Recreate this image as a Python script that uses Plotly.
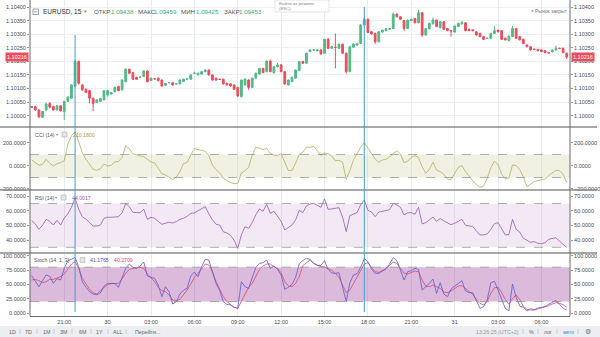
import plotly.graph_objects as go

# ---------------- data ----------------
time_labels = ["21:00", "30", "03:00", "06:00", "09:00", "12:00", "15:00", "18:00", "21:00", "31", "03:00", "06:00"]
label_bars = [9, 21, 33, 45, 57, 69, 81, 93, 105, 117, 129, 141]
price_ticks = [1.10000, 1.10050, 1.10100, 1.10150, 1.10200, 1.10250, 1.10300, 1.10350, 1.10400]
cci_ticks = [-200, 0, 200]
rsi_ticks = [40, 50, 60, 70]
stoch_ticks = [0, 25, 50, 75, 100]
cursor_bars = [12, 92]

open_ = [1.10032, 1.10033, 1.10021, 1.09994, 1.10021, 1.10045, 1.10033, 1.10021, 1.10036, 1.10015,
         1.10052, 1.10064, 1.10109, 1.10199, 1.10113, 1.10097, 1.10092, 1.10064, 1.10048, 1.10052,
         1.10058, 1.10076, 1.10080, 1.10088, 1.10107, 1.10095, 1.10125, 1.10171, 1.10158, 1.10141,
         1.10141, 1.10144, 1.10164, 1.10129, 1.10136, 1.10138, 1.10131, 1.10112, 1.10121, 1.10121,
         1.10116, 1.10117, 1.10126, 1.10134, 1.10134, 1.10155, 1.10150, 1.10153, 1.10162, 1.10168,
         1.10150, 1.10138, 1.10134, 1.10134, 1.10119, 1.10117, 1.10113, 1.10104, 1.10070, 1.10113,
         1.10131, 1.10104, 1.10138, 1.10153, 1.10174, 1.10162, 1.10201, 1.10158, 1.10180, 1.10187,
         1.10162, 1.10113, 1.10125, 1.10138, 1.10166,
         1.10199, 1.10193, 1.10236, 1.10241, 1.10238, 1.10242, 1.10230, 1.10281, 1.10248, 1.10252,
         1.10248, 1.10263, 1.10230, 1.10162, 1.10252, 1.10260, 1.10266, 1.10334, 1.10355, 1.10309,
         1.10303, 1.10272, 1.10308, 1.10313, 1.10318, 1.10321, 1.10374, 1.10364, 1.10350, 1.10321,
         1.10350, 1.10358, 1.10342, 1.10379, 1.10297, 1.10320, 1.10338, 1.10352, 1.10324, 1.10346,
         1.10321, 1.10313, 1.10308, 1.10328, 1.10338, 1.10342, 1.10318, 1.10316, 1.10309, 1.10303,
         1.10291, 1.10284, 1.10285, 1.10303, 1.10315, 1.10313, 1.10285, 1.10276, 1.10291, 1.10321,
         1.10291, 1.10281, 1.10260, 1.10254, 1.10245, 1.10244, 1.10242, 1.10239, 1.10232, 1.10235,
         1.10242, 1.10248, 1.10248, 1.10230]

high = [1.10035, 1.10036, 1.10023, 1.10017, 1.10048, 1.10049, 1.10036, 1.10039, 1.10038, 1.10055,
        1.10071, 1.10116, 1.10204, 1.10203, 1.10116, 1.10100, 1.10095, 1.10066, 1.10060, 1.10065,
        1.10094, 1.10095, 1.10087, 1.10107, 1.10110, 1.10134, 1.10174, 1.10173, 1.10160, 1.10143,
        1.10144, 1.10167, 1.10167, 1.10140, 1.10137, 1.10140, 1.10133, 1.10120, 1.10123, 1.10123,
        1.10118, 1.10133, 1.10136, 1.10136, 1.10152, 1.10162, 1.10158, 1.10164, 1.10170, 1.10170,
        1.10152, 1.10140, 1.10136, 1.10136, 1.10121, 1.10119, 1.10115, 1.10106, 1.10133, 1.10137,
        1.10134, 1.10140, 1.10158, 1.10176, 1.10176, 1.10203, 1.10206, 1.10182, 1.10194, 1.10189,
        1.10164, 1.10133, 1.10143, 1.10170, 1.10201,
        1.10202, 1.10232, 1.10244, 1.10244, 1.10244, 1.10245, 1.10283, 1.10286, 1.10256, 1.10303,
        1.10265, 1.10265, 1.10232, 1.10256, 1.10266, 1.10268, 1.10336, 1.10360, 1.10358, 1.10311,
        1.10305, 1.10311, 1.10317, 1.10322, 1.10323, 1.10380, 1.10377, 1.10366, 1.10352, 1.10354,
        1.10357, 1.10360, 1.10390, 1.10381, 1.10323, 1.10342, 1.10362, 1.10354, 1.10348, 1.10348,
        1.10323, 1.10315, 1.10332, 1.10342, 1.10350, 1.10344, 1.10320, 1.10318, 1.10311, 1.10305,
        1.10293, 1.10287, 1.10305, 1.10330, 1.10317, 1.10315, 1.10287, 1.10295, 1.10330, 1.10323,
        1.10293, 1.10283, 1.10262, 1.10256, 1.10247, 1.10246, 1.10244, 1.10241, 1.10234, 1.10244,
        1.10258, 1.10250, 1.10250, 1.10232]

low = [1.10028, 1.10018, 1.09990, 1.09991, 1.10016, 1.10027, 1.10018, 1.10019, 1.10015, 1.09984,
       1.10050, 1.10062, 1.10105, 1.10114, 1.10091, 1.10083, 1.10045, 1.10017, 1.10046, 1.10050,
       1.10056, 1.10070, 1.10078, 1.10086, 1.10090, 1.10093, 1.10123, 1.10154, 1.10131, 1.10132,
       1.10139, 1.10142, 1.10122, 1.10127, 1.10133, 1.10127, 1.10107, 1.10108, 1.10119, 1.10111,
       1.10114, 1.10115, 1.10124, 1.10132, 1.10132, 1.10153, 1.10148, 1.10151, 1.10160, 1.10148,
       1.10129, 1.10129, 1.10131, 1.10115, 1.10111, 1.10107, 1.10095, 1.10068, 1.10067, 1.10111,
       1.10095, 1.10102, 1.10136, 1.10151, 1.10156, 1.10160, 1.10160, 1.10156, 1.10178, 1.10160,
       1.10113, 1.10111, 1.10123, 1.10136, 1.10164,
       1.10191, 1.10191, 1.10234, 1.10239, 1.10236, 1.10225, 1.10228, 1.10246, 1.10246, 1.10174,
       1.10246, 1.10228, 1.10155, 1.10160, 1.10250, 1.10258, 1.10264, 1.10332, 1.10304, 1.10299,
       1.10264, 1.10270, 1.10306, 1.10311, 1.10316, 1.10319, 1.10362, 1.10353, 1.10313, 1.10319,
       1.10348, 1.10340, 1.10340, 1.10290, 1.10295, 1.10318, 1.10336, 1.10326, 1.10322, 1.10316,
       1.10311, 1.10291, 1.10306, 1.10326, 1.10336, 1.10311, 1.10311, 1.10311, 1.10295, 1.10289,
       1.10279, 1.10282, 1.10283, 1.10301, 1.10307, 1.10279, 1.10277, 1.10274, 1.10289, 1.10283,
       1.10277, 1.10264, 1.10252, 1.10240, 1.10242, 1.10237, 1.10234, 1.10230, 1.10229, 1.10233,
       1.10240, 1.10245, 1.10230, 1.10209]

close = [1.10031, 1.10021, 1.09996, 1.10015, 1.10043, 1.10031, 1.10021, 1.10036, 1.10018, 1.10052,
         1.10068, 1.10113, 1.10199, 1.10119, 1.10095, 1.10085, 1.10064, 1.10045, 1.10058, 1.10063,
         1.10092, 1.10092, 1.10085, 1.10104, 1.10092, 1.10131, 1.10171, 1.10156, 1.10134, 1.10134,
         1.10142, 1.10164, 1.10125, 1.10138, 1.10135, 1.10129, 1.10109, 1.10118, 1.10122, 1.10113,
         1.10117, 1.10131, 1.10134, 1.10135, 1.10150, 1.10156, 1.10156, 1.10162, 1.10168, 1.10150,
         1.10131, 1.10131, 1.10133, 1.10117, 1.10113, 1.10109, 1.10097, 1.10072, 1.10131, 1.10135,
         1.10104, 1.10138, 1.10156, 1.10174, 1.10158, 1.10201, 1.10162, 1.10180, 1.10187, 1.10162,
         1.10117, 1.10131, 1.10141, 1.10168, 1.10199,
         1.10193, 1.10230, 1.10242, 1.10242, 1.10242, 1.10227, 1.10281, 1.10248, 1.10254, 1.10251,
         1.10263, 1.10230, 1.10162, 1.10254, 1.10264, 1.10266, 1.10334, 1.10355, 1.10306, 1.10301,
         1.10272, 1.10309, 1.10315, 1.10320, 1.10321, 1.10374, 1.10364, 1.10355, 1.10321, 1.10352,
         1.10355, 1.10342, 1.10379, 1.10297, 1.10321, 1.10340, 1.10352, 1.10328, 1.10346, 1.10318,
         1.10313, 1.10312, 1.10330, 1.10340, 1.10342, 1.10313, 1.10313, 1.10313, 1.10297, 1.10291,
         1.10281, 1.10285, 1.10303, 1.10313, 1.10309, 1.10281, 1.10279, 1.10293, 1.10321, 1.10285,
         1.10279, 1.10266, 1.10254, 1.10242, 1.10244, 1.10239, 1.10236, 1.10232, 1.10231, 1.10242,
         1.10248, 1.10247, 1.10232, 1.10216]

cci = [52, 29, 6, 15, 58, 23, 0, 20, 29, 46,
       191, 264, 296, 212, 116, 58, 9, -29, -38, -23,
       17, 0, 6, 35, 38, 75, 177, 151, 107, 96,
       87, 81, 55, 35, 26, -23, -67, -78, -102, -119,
       -96, -49, 23, 29, 96, 151, 142, 136, 128, 90,
       6, -32, -61, -107, -125, -145, -154, -151, -61, -41,
       -12, 93, 165, 154, 142, 154, 110, 93, 90, 107,
       29, -41, -38, 23, 99,
       119, 165, 162, 171, 130, 93, 113, 107, 87, 46,
       49, 32, -116, -41, 52, 110, 162, 203, 154, 107,
       61, 32, 52, 58, 78, 110, 133, 104, 29, 41,
       75, 90, 72, -6, -64, -29, 32, -38, -49, -72,
       -113, -119, -64, -12, 3, -49, -87, -130, -162, -186,
       -174, -107, -15, 41, 12, -72, -113, -104, 9, 3,
       -32, -96, -180, -160, -136, -128, -122, -113, -84, -58,
       -38, -41, -72, -145]

rsi = [53.3, 51.0, 47.3, 50.1, 54.2, 52.8, 50.3, 53.5, 50.3, 55.1,
       57.9, 62.4, 68.9, 61.1, 56.0, 54.4, 51.9, 49.6, 49.6, 50.3,
       54.9, 55.6, 55.6, 55.8, 56.0, 58.6, 65.0, 62.9, 59.0, 58.8,
       58.8, 61.1, 54.2, 55.6, 54.9, 52.8, 50.8, 51.5, 52.2, 51.7,
       52.6, 54.2, 54.9, 56.3, 58.3, 58.6, 59.9, 61.5, 62.9, 57.9,
       53.8, 50.8, 50.3, 45.7, 44.8, 43.2, 39.8, 34.3, 43.5, 49.2,
       48.0, 51.9, 57.4, 61.3, 59.7, 64.5, 58.3, 59.7, 56.3, 52.8,
       46.9, 48.7, 50.3, 53.8, 60.2,
       58.8, 63.4, 64.7, 65.2, 63.8, 62.4, 68.2, 61.1, 61.3, 61.5,
       62.2, 55.6, 45.7, 56.7, 57.9, 58.8, 64.1, 67.5, 60.4, 59.2,
       56.0, 59.2, 59.7, 60.2, 60.8, 65.2, 64.1, 62.4, 57.2, 58.6,
       58.8, 57.6, 62.4, 51.0, 51.9, 53.8, 55.8, 52.8, 54.7, 53.1,
       51.5, 50.5, 51.5, 52.6, 54.2, 50.1, 49.9, 49.2, 46.2, 43.5,
       43.5, 44.1, 47.3, 51.2, 51.9, 47.3, 43.5, 43.7, 54.2, 47.3,
       45.5, 41.2, 39.6, 38.4, 38.9, 37.7, 37.5, 38.2, 40.5, 41.2,
       41.6, 39.1, 37.0, 35.0]

stoch_k = [65.1, 56.4, 45.9, 56.4, 66.3, 64.0, 51.7, 59.9, 57.6, 77.9,
           91.3, 93.6, 97.1, 80.8, 54.7, 44.8, 37.2, 33.1, 32.0, 34.9,
           47.1, 51.7, 51.7, 51.7, 44.8, 60.5, 77.9, 85.5, 79.7, 77.9,
           82.0, 89.0, 64.5, 62.2, 60.5, 48.8, 28.5, 45.9, 37.2, 15.7,
           19.8, 33.1, 40.1, 43.0, 64.5, 71.5, 63.4, 80.8, 93.6, 92.4,
           70.3, 51.7, 39.0, 19.8, 15.1, 14.0, 9.9, 8.1, 54.7, 45.9,
           43.0, 60.5, 79.7, 86.6, 87.8, 92.4, 77.9, 82.0, 76.2, 66.3,
           41.3, 44.8, 50.0, 62.2, 85.5,
           91.9, 95.3, 93.6, 86.6, 83.1, 83.1, 91.3, 76.2, 69.8, 69.2,
           70.3, 45.9, 19.8, 52.9, 66.3, 68.6, 79.7, 95.3, 89.5, 76.7,
           69.2, 69.2, 73.8, 77.3, 85.5, 96.5, 91.3, 75.0, 57.6, 72.1,
           73.8, 77.9, 76.2, 40.1, 45.9, 51.7, 59.3, 34.3, 52.9, 33.1,
           28.5, 41.9, 47.1, 51.7, 56.4, 38.4, 35.5, 35.5, 20.9, 8.1,
           11.0, 22.7, 52.9, 55.2, 40.1, 22.7, 8.1, 4.1, 50.6, 27.3,
           12.2, 9.9, 3.5, 7.6, 5.8, 8.7, 10.5, 11.0, 15.1, 19.2,
           22.1, 15.1, 8.1, 5.2]

stoch_d = [57.6, 58.7, 56.4, 52.9, 54.7, 58.7, 58.7, 60.5, 63.4, 68.0,
           77.9, 85.5, 89.5, 77.9, 60.5, 51.7, 41.3, 35.5, 33.1, 39.0,
           44.8, 49.4, 51.2, 51.7, 51.7, 59.3, 69.2, 76.2, 77.9, 79.1,
           79.7, 77.9, 68.0, 62.2, 54.7, 44.8, 39.0, 37.2, 31.4, 22.7,
           21.5, 23.8, 31.4, 40.1, 50.6, 62.2, 69.2, 77.9, 85.5, 83.7,
           72.1, 54.7, 41.3, 28.5, 19.8, 14.0, 9.9, 8.1, 19.8, 31.4,
           44.8, 51.7, 64.5, 76.2, 82.0, 85.5, 85.5, 80.8, 77.9, 70.3,
           54.7, 47.1, 45.9, 51.7, 63.4,
           82.6, 87.8, 92.4, 86.6, 83.7, 80.8, 80.2, 76.7, 74.4, 69.2,
           62.2, 48.8, 35.5, 40.1, 51.7, 64.5, 73.8, 85.5, 87.8, 79.7,
           72.1, 70.9, 74.4, 77.3, 83.1, 89.0, 86.6, 77.3, 69.8, 68.0,
           70.3, 73.3, 72.1, 57.6, 47.1, 45.9, 48.8, 45.9, 43.0, 36.6,
           35.5, 38.4, 43.6, 47.1, 47.7, 41.9, 37.8, 32.6, 23.3, 16.9,
           14.0, 20.3, 34.3, 44.2, 44.8, 35.5, 23.8, 15.1, 25.6, 31.4,
           23.3, 11.6, 6.4, 5.2, 5.2, 7.0, 8.7, 10.5, 12.8, 15.7,
           18.0, 16.9, 14.5, 9.9]

bars = list(range(len(close)))

# ---------------- style / layout helpers ----------------
FONT = "Liberation Sans, Arial, sans-serif"
GREEN = "#53b987"
RED = "#eb4d5c"
W, H = 600, 337
L, R, B = 30, 30, 21
PW, PH = W - L - R, H - B
X_RANGE = [-0.47, 148.9]


def px(x):
    return (x - L) / PW


def py(y):
    return (PH - y) / PH


dom_main = [py(127), 1.0]
dom_cci = [py(190), py(127)]
dom_rsi = [py(253), py(190)]
dom_sto = [0.0, py(253)]

fig = go.Figure()
fig.add_trace(go.Candlestick(
    x=bars, open=open_, high=high, low=low, close=close, xaxis="x", yaxis="y",
    increasing=dict(line=dict(color=GREEN, width=1), fillcolor=GREEN),
    decreasing=dict(line=dict(color=RED, width=1), fillcolor=RED),
    whiskerwidth=0, hoverinfo="skip", showlegend=False))
fig.add_trace(go.Scatter(x=bars, y=cci, yaxis="y2", mode="lines",
                         line=dict(color="#b2b05c", width=0.8), showlegend=False))
fig.add_trace(go.Scatter(x=bars, y=rsi, yaxis="y3", mode="lines",
                         line=dict(color="#9a57ad", width=0.8), showlegend=False))
fig.add_trace(go.Scatter(x=bars, y=stoch_d, yaxis="y4", mode="lines",
                         line=dict(color="#e2475c", width=0.8), showlegend=False))
fig.add_trace(go.Scatter(x=bars, y=stoch_k, yaxis="y4", mode="lines",
                         line=dict(color="#5b5bdc", width=0.8), showlegend=False))
for ax in ["y5", "y6", "y7", "y8"]:
    fig.add_trace(go.Scatter(x=[None], y=[None], yaxis=ax, showlegend=False, hoverinfo="skip"))

tick_font = dict(family=FONT, size=5.5, color="#4a4a4a")


def yax(domain, rng, vals, fmt, side="left", overlay=None, grid=False):
    d = dict(domain=domain, range=rng, tickvals=vals, tickformat=fmt, side=side, anchor="x",
             showgrid=grid, gridcolor="#edf0f3", gridwidth=1, zeroline=False, showline=False,
             ticks="outside", ticklen=2, tickcolor="#999", tickfont=tick_font, fixedrange=True)
    if overlay:
        d["overlaying"] = overlay
    return d


rng_main = [1.09958, 1.10426]
rng_cci = [-209, 339]
rng_rsi = [31.1, 74.3]
rng_sto = [-5.2, 104.7]

shapes = []
# indicator bands (above grid, below lines; semi-transparent so the grid shows faintly)
for yref, lo, hi, col in [("y2", -100, 100, "rgba(170,170,90,0.17)"),
                          ("y3", 35, 65, "rgba(160,70,170,0.12)"),
                          ("y4", 20, 80, "rgba(150,45,150,0.33)")]:
    shapes.append(dict(type="rect", xref="x", yref=yref, x0=X_RANGE[0], x1=X_RANGE[1], y0=lo, y1=hi,
                       fillcolor=col, line=dict(width=0), layer="between"))
    for v in (lo, hi):
        shapes.append(dict(type="line", xref="paper", yref=yref, x0=0, x1=1, y0=v, y1=v,
                           line=dict(color="#8c8c8c", width=0.7, dash="dash"), layer="above"))
# panel separators
for yy in (127, 190, 253):
    shapes.append(dict(type="line", xref="paper", yref="paper", x0=px(0), x1=px(597), y0=py(yy), y1=py(yy),
                       line=dict(color="#8a8a8a", width=1.3)))
# plot borders left/right
for xx in (0, 1):
    shapes.append(dict(type="line", xref="paper", yref="paper", x0=xx, x1=xx, y0=0, y1=1,
                       line=dict(color="#6a6a6a", width=1)))
# crosshair / vertical drawn lines
for b, top in zip(cursor_bars, (35, 7)):
    shapes.append(dict(type="line", xref="x", yref="paper", x0=b, x1=b, y0=py(312), y1=py(top),
                       line=dict(color="#3f9fd0", width=1)))
# bottom toolbar
shapes.append(dict(type="rect", xref="paper", yref="paper", x0=px(0), x1=px(600), y0=py(337), y1=py(326),
                   fillcolor="#eceef1", line=dict(width=0)))
for xx in (20, 37, 54, 72, 91, 108, 126, 523, 538, 557, 578):
    shapes.append(dict(type="line", xref="paper", yref="paper", x0=px(xx), x1=px(xx), y0=py(334), y1=py(329),
                       line=dict(color="#c4c7cc", width=0.8)))
# tooltip box
shapes.append(dict(type="rect", xref="paper", yref="paper", x0=px(275), x1=px(329), y0=py(12), y1=py(0),
                   fillcolor="white", line=dict(color="#cfd3d8", width=0.6)))
# legend close boxes
for x0, y0 in ((62, 132), (61, 195), (80, 257.5)):
    shapes.append(dict(type="rect", xref="paper", yref="paper", x0=px(x0), x1=px(x0 + 5), y0=py(y0 + 5), y1=py(y0),
                       fillcolor="#e6e6e6", line=dict(color="#b0b0b0", width=0.6)))
# header icon
shapes.append(dict(type="rect", xref="paper", yref="paper", x0=px(33), x1=px(38.5), y0=py(14.5), y1=py(9),
                   fillcolor="white", line=dict(color="#777", width=0.7)))
shapes.append(dict(type="line", xref="paper", yref="paper", x0=px(34), x1=px(37.5), y0=py(11.75), y1=py(11.75),
                   line=dict(color="#777", width=0.7)))

annotations = []


def ann(text, x, y, size=5.5, color="#555", xanchor="left", **kw):
    annotations.append(dict(text=text, x=px(x), y=py(y), xref="paper", yref="paper", showarrow=False,
                            xanchor=xanchor, yanchor="middle", font=dict(family=FONT, size=size, color=color), **kw))


# header
ann("EURUSD, 15", 41, 11.5, size=6.5, color="#2f2f2f")
ann("▾", 82, 11.5, size=4.5, color="#888")
for lab, lx, val, vx in (("ОТКР", 92, "1.09438", 108.5), ("МАКС", 135.5, "1.09459", 152),
                         ("МИН", 179, "1.09425", 193.5), ("ЗАКР", 222, "1.09453", 237)):
    ann(lab, lx, 11.5, size=6.2, color="#555")
    ann(val, vx, 11.5, size=6.2, color="#3da877")
ann("Выйти из режима", 277, 3.5, size=4.3, color="#8a8a8a")
ann("(ESC)", 277, 8.5, size=4.3, color="#8a8a8a")
ann("●", 529, 11, size=4, color="#888")
ann("Рынок закрыт", 533, 11, size=5, color="#777")

# indicator legends
ann("CCI (14)", 32.5, 134.5, size=5.2)
ann("▾", 54, 134.5, size=4.2, color="#888")
ann("210.1800", 71, 134.5, size=5.2, color="#a3a23e")
ann("RSI (14)", 32.5, 197.5, size=5.2)
ann("▾", 53, 197.5, size=4.2, color="#888")
ann("44.0017", 70, 197.5, size=5.2, color="#9a57ad")
ann("Stoch (14, 1, 3)", 32, 260, size=5.2)
ann("▾", 72.5, 260, size=4.2, color="#888")
ann("41.1765", 88, 260, size=5.2, color="#4b4bd6")
ann("40.2709", 112, 260, size=5.2, color="#e2475c")

# last price labels
last = close[-1]
for xx, anc in ((571, "left"), (29, "right")):
    annotations.append(dict(text=f"{last:.5f}", x=px(xx), y=last, xref="paper", yref="y", showarrow=False,
                            xanchor=anc, yanchor="middle", bgcolor=RED, borderpad=1,
                            font=dict(family=FONT, size=5.5, color="white")))

# toolbar
for t, xx in zip(["1D", "7D", "1M", "3M", "6M", "1Y", "ALL", "Перейти..."], [12, 28.5, 46, 63, 82, 99.5, 117, 147]):
    ann(t, xx, 331.5, size=5.3, color="#666", xanchor="center")
ann("13:26:25 (UTC+2)", 497, 331.5, size=5.3, color="#9a9a9a", xanchor="center")
ann("%", 531, 331.5, size=5.3, color="#666", xanchor="center")
ann("лог", 547.5, 331.5, size=5.3, color="#666", xanchor="center")
ann("авто", 568, 331.5, size=5.3, color="#3a92d8", xanchor="center")
ann("⚙", 588, 331.5, size=6.5, color="#777", xanchor="center")

fig.update_layout(
    width=W, height=H, autosize=False,
    margin=dict(l=L, r=R, t=0, b=B, pad=0),
    paper_bgcolor="white", plot_bgcolor="white",
    showlegend=False, hovermode=False,
    font=dict(family=FONT, size=5.5, color="#4a4a4a"),
    xaxis=dict(domain=[0, 1], range=X_RANGE, tickvals=label_bars, ticktext=time_labels,
               anchor="y4", showgrid=True, gridcolor="#e7ecf0", gridwidth=1, showline=True,
               linecolor="#6a6a6a", linewidth=1, ticks="", tickfont=tick_font, zeroline=False,
               rangeslider=dict(visible=False), fixedrange=True),
    yaxis=yax(dom_main, rng_main, price_ticks, ".5f", grid=True),
    yaxis2=yax(dom_cci, rng_cci, cci_ticks, ".4f"),
    yaxis3=yax(dom_rsi, rng_rsi, rsi_ticks, ".4f"),
    yaxis4=yax(dom_sto, rng_sto, stoch_ticks, ".4f"),
    yaxis5=yax(dom_main, rng_main, price_ticks, ".5f", side="right", overlay="y"),
    yaxis6=yax(dom_cci, rng_cci, cci_ticks, ".4f", side="right", overlay="y2"),
    yaxis7=yax(dom_rsi, rng_rsi, rsi_ticks, ".4f", side="right", overlay="y3"),
    yaxis8=yax(dom_sto, rng_sto, stoch_ticks, ".4f", side="right", overlay="y4"),
    shapes=shapes,
    annotations=annotations,
)

fig.write_html("out.html")
